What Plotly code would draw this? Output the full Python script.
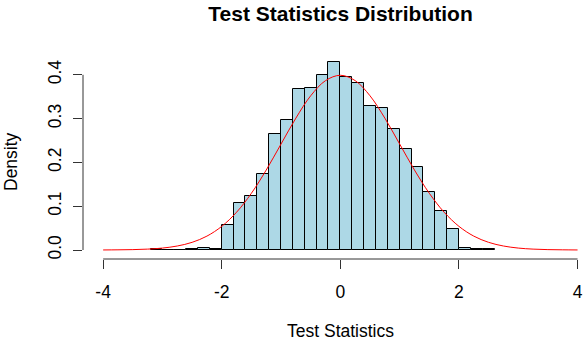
import plotly.graph_objects as go

# Histogram bins (left edges) and densities
bin_left = [-3.2, -3.0, -2.8, -2.6, -2.4, -2.2, -2.0, -1.8, -1.6, -1.4, -1.2, -1.0,
            -0.8, -0.6, -0.4, -0.2, 0.0, 0.2, 0.4, 0.6, 0.8, 1.0, 1.2, 1.4,
            1.6, 1.8, 2.0, 2.2, 2.4]
density = [0.0012, 0.0003, 0.0003, 0.0015, 0.0035, 0.0012, 0.057, 0.107, 0.123, 0.173, 0.265, 0.296,
           0.367, 0.371, 0.400, 0.430, 0.394, 0.381, 0.328, 0.324, 0.276, 0.231, 0.190, 0.132,
           0.089, 0.047, 0.004, 0.0012, 0.0012]
bin_width = 0.2

# Red reference curve
curve_x = [-4.0, -3.75, -3.5, -3.25, -3.0, -2.75, -2.5, -2.25, -2.0, -1.75, -1.5, -1.25,
           -1.0, -0.75, -0.5, -0.25, 0.0, 0.25, 0.5, 0.75, 1.0, 1.25, 1.5, 1.75,
           2.0, 2.25, 2.5, 2.75, 3.0, 3.25, 3.5, 3.75, 4.0]
curve_y = [0.0001, 0.0004, 0.0009, 0.002, 0.0044, 0.0091, 0.0175, 0.0317, 0.054, 0.0863, 0.1295, 0.1826,
           0.242, 0.3011, 0.3521, 0.3867, 0.3989, 0.3867, 0.3521, 0.3011, 0.242, 0.1826, 0.1295, 0.0863,
           0.054, 0.0317, 0.0175, 0.0091, 0.0044, 0.002, 0.0009, 0.0004, 0.0001]

x_ticks = [-4, -2, 0, 2, 4]
y_ticks = [0.0, 0.1, 0.2, 0.3, 0.4]
y_tick_text = ["0.0", "0.1", "0.2", "0.3", "0.4"]

FONT = "Liberation Sans, Arial, sans-serif"
FS = 17.5

centers = [b + bin_width / 2 for b in bin_left]

fig = go.Figure()
fig.add_trace(go.Bar(
    x=centers, y=density, width=bin_width,
    marker=dict(color="#ADD8E6", line=dict(color="black", width=1)),
    hoverinfo="skip",
))
fig.add_trace(go.Scatter(
    x=curve_x, y=curve_y, mode="lines", line=dict(color="red", width=1, shape="spline"),
    hoverinfo="skip",
))

L, R, T, B = 83, 0, 40, 83
W, H = 586, 342
px_per_x = 59.3
x0_px = 340.35
x_lo = (L - x0_px) / px_per_x
x_hi = (W - R - x0_px) / px_per_x
px_per_y = 438.0
y0_px = 250.0
y_lo = -((H - B) - y0_px) / px_per_y
y_hi = (y0_px - T) / px_per_y

fig.update_layout(
    width=W, height=H,
    margin=dict(l=L, r=R, t=T, b=B, pad=0),
    paper_bgcolor="white", plot_bgcolor="white",
    showlegend=False, bargap=0,
    font=dict(family=FONT, size=FS, color="black"),
    title=dict(text="<b>Test Statistics Distribution</b>", x=340.5 / W, xanchor="center",
               y=1 - 14 / H, yanchor="middle", font=dict(size=21, family=FONT, color="black")),
    xaxis=dict(range=[x_lo, x_hi], tickvals=x_ticks, ticktext=[str(v) for v in x_ticks],
               showgrid=False, zeroline=False, showline=False,
               ticks="outside", ticklen=9, tickwidth=1, tickcolor="#333",
               ticklabelstandoff=8, tickfont=dict(size=FS)),
    yaxis=dict(range=[y_lo, y_hi], tickvals=y_ticks, ticktext=y_tick_text,
               showgrid=False, zeroline=False, showline=False,
               ticks="outside", ticklen=9, tickwidth=1, tickcolor="#333",
               tickangle=-90, ticklabelstandoff=5, tickfont=dict(size=FS)),
    shapes=[
        dict(type="line", xref="x", yref="paper", x0=-4, x1=4, y0=0, y1=0,
             line=dict(color="#333", width=1)),
        dict(type="line", xref="paper", yref="y", x0=0, x1=0, y0=0, y1=0.4,
             line=dict(color="#333", width=1)),
    ],
    annotations=[
        dict(text="Test Statistics", xref="paper", yref="paper", x=(340.5 - L) / (W - L - R),
             y=-(331 - (H - B)) / (H - T - B), xanchor="center", yanchor="middle",
             showarrow=False, font=dict(size=FS, family=FONT)),
        dict(text="Density", xref="paper", yref="paper", x=-(L - 11) / (W - L - R),
             y=(H - B - 162) / (H - T - B), xanchor="center", yanchor="middle", textangle=-90,
             showarrow=False, font=dict(size=FS, family=FONT)),
    ],
)

fig.write_html("out.html")
